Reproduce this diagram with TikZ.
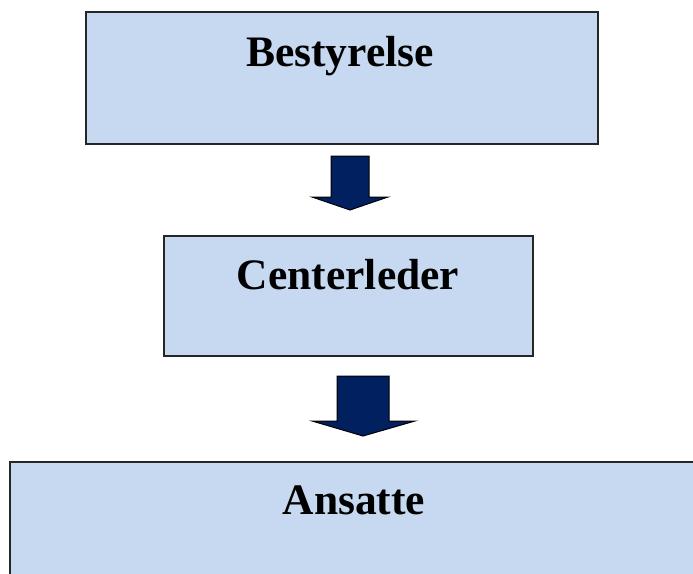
\documentclass[tikz,border=0pt]{standalone}
\usepackage{fontspec}
\setmainfont{Liberation Serif}
\usepackage{tikz}
\definecolor{boxblue}{HTML}{C6D9F1}
\definecolor{navy}{HTML}{002060}
\tikzset{
  orgbox/.style={draw=black!85, line width=2pt, fill=boxblue, rectangle, anchor=north west, inner sep=0pt},
  orgtext/.style={anchor=base, inner sep=0pt, font=\fontsize{43.5}{50}\selectfont\bfseries},
  blockarrow/.style={draw=black, line width=1pt, fill=navy, line join=miter}
}
\begin{document}
\begin{tikzpicture}[x=1pt,y=-1pt] % 3 boxes
      \useasboundingbox (0,0) rectangle (693,573);
      \clip (0,0) rectangle (693,573);
      \node[name=b1, orgbox, minimum width=512pt, minimum height=132pt] at (85,11){};
      \node[name=b2, orgbox, minimum width=369pt, minimum height=120pt] at (163,235){};
      \node[name=b3, orgbox, minimum width=700pt, minimum height=140pt] at (9,461){};
      \node[name=t1, orgtext] at (340,66){Bestyrelse};
      \node[name=t2, orgtext] at (348,289){Centerleder};
      \node[name=t3, orgtext] at (354,514){Ansatte};
      % arrows
      \draw[blockarrow] (331,156) -- (369,156) -- (369,197) -- (388,197) -- (350,210)
            -- (312,197) -- (331,197) -- cycle;
      \draw[blockarrow] (337,376) -- (389,376) -- (389,421) -- (415,421) -- (363,436)
            -- (312,421) -- (337,421) -- cycle;
   \end{tikzpicture}
\end{document}
